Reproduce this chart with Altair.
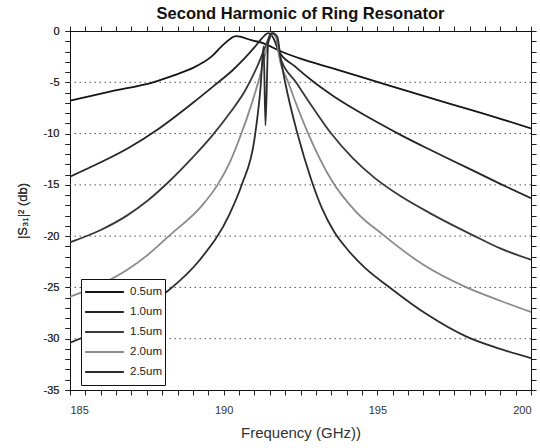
import altair as alt
import pandas as pd

chart_title = "Second Harmonic of Ring Resonator"
x_title = "Frequency (GHz))"
y_title = "|S\u2083\u2081|\u00b2 (db)"

series_names = ["0.5um", "1.0um", "1.5um", "2.0um", "2.5um"]
series_colors = ["#151515", "#252525", "#383838", "#8a8a8a", "#2c2c2c"]

freq_05 = [185, 186.3, 187.7, 188.4, 189.0, 189.6, 190.0, 190.4, 190.9, 191.3, 191.8,
           192.5, 193.5, 194.6, 195.8, 196.8, 198.4, 200]
db_05 = [-6.8, -5.9, -5.0, -4.3, -3.6, -2.5, -1.3, -0.5, -0.9, -1.2, -1.9,
         -2.7, -3.6, -4.6, -5.7, -6.6, -8.0, -9.5]

freq_10 = [185, 186.0, 186.9, 187.9, 189.0, 189.7, 190.3, 190.7, 191.0, 191.25, 191.45, 191.6, 191.8,
           192.3, 192.9, 193.6, 194.3, 195.0, 195.8, 196.8, 197.9, 199.0, 200]
db_10 = [-14.2, -12.8, -11.4, -9.5, -7.0, -5.3, -3.8, -2.6, -1.6, -0.7, -0.2, -0.6, -2.0,
         -3.4, -4.9, -6.4, -7.7, -8.9, -10.2, -11.7, -13.3, -14.9, -16.3]

freq_15 = [185, 186.0, 186.85, 187.5, 188.25, 189.0, 189.6, 190.2, 190.7, 191.1, 191.4, 191.55, 191.7, 191.8,
           192.4, 193.0, 193.5, 194.2, 194.9, 195.7, 196.8, 198.1, 199.0, 200]
db_15 = [-20.6, -19.4, -18.0, -16.6, -14.6, -12.3, -10.3, -8.0, -5.8, -3.4, -1.2, -0.2, -0.5, -2.2,
         -5.2, -7.9, -10.0, -12.4, -14.3, -16.0, -17.9, -19.9, -21.2, -22.3]

freq_20 = [185, 186.0, 186.85, 187.5, 188.25, 189.3, 189.8, 190.2, 190.5, 190.9, 191.2, 191.45, 191.6, 191.72, 191.8,
           192.1, 192.75, 193.5, 194.3, 195.2, 196.5, 197.9, 199.0, 200]
db_20 = [-25.9, -24.7, -23.3, -21.9, -19.9, -17.0, -15.0, -12.8, -10.6, -7.2, -4.2, -1.2, -0.2, -0.6, -2.4,
         -5.0, -10.0, -14.5, -17.6, -19.9, -22.8, -25.0, -26.3, -27.4]

freq_25 = [185, 186.0, 187.0, 188.2, 189.2, 190.2, 190.6, 191.0, 191.2, 191.3, 191.36, 191.45, 191.6,
           191.75, 191.85, 192.0, 192.4, 192.85, 193.2, 193.6, 194.0, 194.6, 195.4, 196.6, 197.9, 199.0, 200]
db_25 = [-30.4, -29.1, -27.6, -25.3, -22.4, -17.8, -14.9, -10.6, -5.5, -1.5, -9.2, -1.0, -0.2,
         -0.6, -2.6, -5.0, -10.0, -14.5, -17.3, -19.6, -21.2, -23.1, -25.0, -27.6, -29.8, -31.0, -31.9]

grid_levels = [-5, -10, -15, -20, -25, -30]
x_tick_values = [185 + 0.5 * i for i in range(31)]
y_tick_values = [-35 + i for i in range(36)]

series_data = [(freq_05, db_05), (freq_10, db_10), (freq_15, db_15), (freq_20, db_20), (freq_25, db_25)]
rows = []
for name, (fs, ds) in zip(series_names, series_data):
    for i, (f, d) in enumerate(zip(fs, ds)):
        rows.append({"series": name, "freq": f, "db": d, "order": i})
df = pd.DataFrame(rows)
grid_df = pd.DataFrame({"level": grid_levels})

FONT = "Liberation Sans"
x_scale = alt.Scale(domain=[185, 200], nice=False, zero=False)
y_scale = alt.Scale(domain=[-35, 0], nice=False, zero=False)

axis_common = dict(grid=False, domainColor="#111", tickColor="#222", domainWidth=1,
                   tickWidth=1, tickSize=5, labelFont=FONT, labelFontSize=11, labelColor="#333",
                   titleFont=FONT, titleColor="#333", titleFontWeight="normal")

x_axis_bottom = alt.Axis(values=x_tick_values, orient="bottom", title=x_title,
                         labelExpr="datum.value % 5 === 0 ? datum.value + '' : ''",
                         labelPadding=9, titlePadding=10, titleFontSize=15, **axis_common)
x_axis_top = alt.Axis(values=x_tick_values, orient="top", title=None, labels=False,
                      **axis_common)
y_axis_left = alt.Axis(values=y_tick_values, orient="left", title=y_title,
                       labelExpr="datum.value % 5 === 0 ? datum.value + '' : ''",
                       labelPadding=6, titlePadding=14, titleFontSize=13, **axis_common)
y_axis_right = alt.Axis(values=y_tick_values, orient="right", title=None, labels=False,
                        **axis_common)

grid = alt.Chart(grid_df).mark_rule(color="#555", strokeDash=[1.5, 3.5], strokeWidth=1).encode(
    y=alt.Y("level:Q", scale=y_scale, axis=y_axis_left)
)

lines = alt.Chart(df).mark_line(strokeWidth=1.8, clip=True, interpolate="monotone").encode(
    x=alt.X("freq:Q", scale=x_scale, axis=x_axis_bottom),
    y=alt.Y("db:Q", scale=y_scale, axis=y_axis_left),
    color=alt.Color("series:N", scale=alt.Scale(domain=series_names, range=series_colors),
                    legend=alt.Legend(title=None, orient="none", legendX=11, legendY=248,
                                      symbolType="stroke", symbolSize=1500, symbolStrokeWidth=2,
                                      clipHeight=20, labelFont=FONT, labelFontSize=11.5,
                                      labelColor="#222", padding=3, rowPadding=0, labelOffset=5,
                                      strokeColor="#111", fillColor="white")),
    order="order:Q",
)

frame = alt.Chart(df).mark_point(opacity=0).encode(
    x=alt.X("freq:Q", scale=x_scale, axis=x_axis_top),
    y=alt.Y("db:Q", scale=y_scale, axis=y_axis_right),
)

chart = alt.layer(grid, lines, frame).resolve_axis(x="independent", y="independent").properties(
    width=461, height=359,
    title=alt.TitleParams(chart_title, font=FONT, fontSize=16.5, fontWeight="bold", color="#111",
                          anchor="middle", offset=3),
    padding={"left": 70, "top": 31, "right": 9, "bottom": 58},
    autosize=alt.AutoSizeParams(type="none"),
).configure_view(stroke="#111", strokeWidth=1)

chart.save("out.html", embed_options={"renderer": "svg", "actions": False})
